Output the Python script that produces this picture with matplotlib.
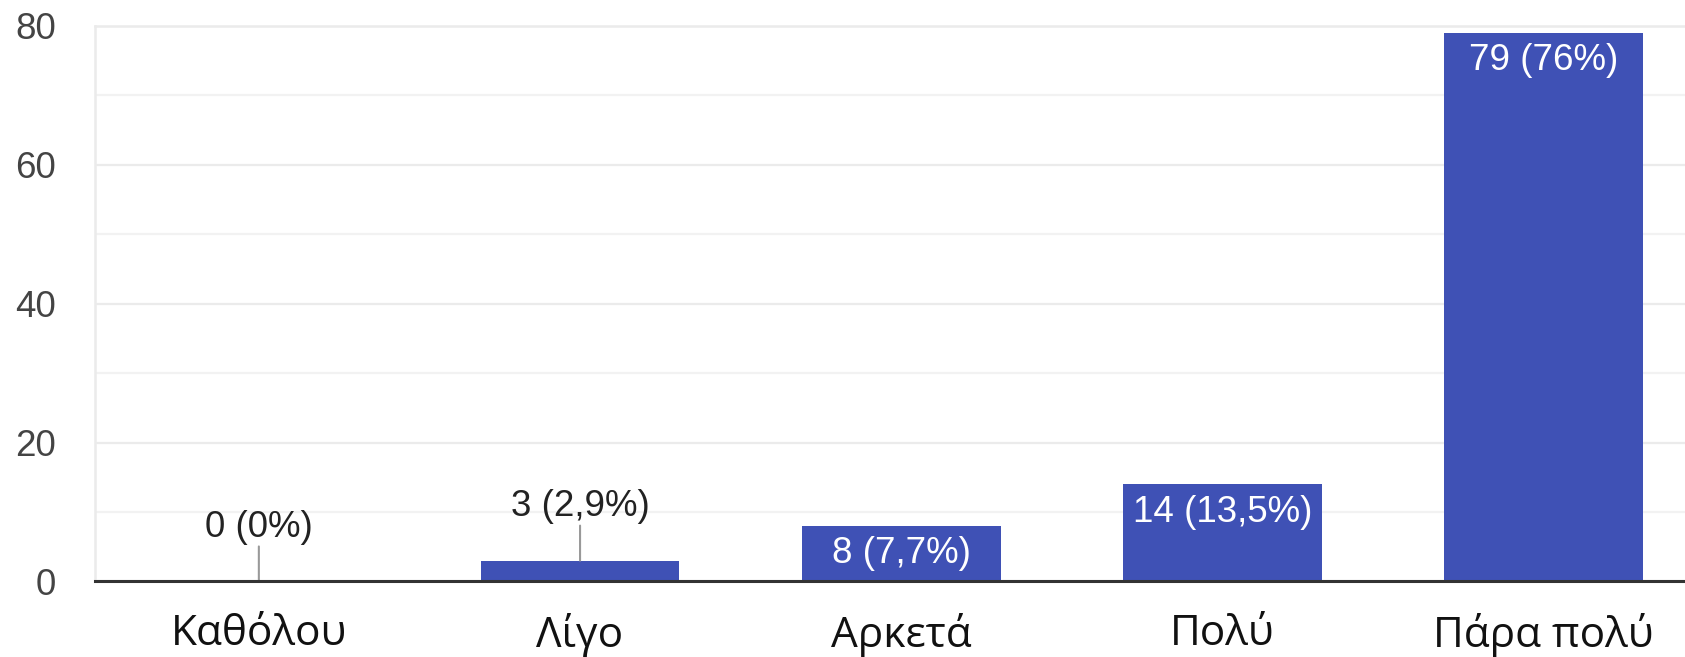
import matplotlib.pyplot as plt
from matplotlib.ticker import MultipleLocator

categories = ["Καθόλου", "Λίγο", "Αρκετά", "Πολύ", "Πάρα πολύ"]
counts = [0, 3, 8, 14, 79]
percents = [0, 2.9, 7.7, 13.5, 76]
y_ticks = [0, 20, 40, 60, 80]

BAR = "#3f51b5"
GRID = "#ebebeb"
NUM_FONT = "Liberation Sans"
CAT_FONT = "Open Sans"


def fmt_pct(p):
    s = f"{p:g}".replace(".", ",")
    return f"{s}%"


fig = plt.figure(figsize=(16.85, 6.57), dpi=100)
ax = fig.add_axes([0.0564, 0.115, 1 - 0.0564, 0.8457])

x = list(range(len(categories)))
ax.bar(x, counts, width=0.618, color=BAR, zorder=2)

ax.set_xlim(-0.51, 4.44)
ax.set_ylim(0, 80)
ax.set_yticks(y_ticks)
ax.yaxis.set_minor_locator(MultipleLocator(10))
ax.grid(axis="y", which="major", color=GRID, lw=1.6, zorder=0)
ax.grid(axis="y", which="minor", color="#f2f2f2", lw=1.6, zorder=0)
ax.set_axisbelow(True)

for side in ["left", "top"]:
    ax.spines[side].set_color(GRID)
    ax.spines[side].set_linewidth(1.8)
ax.spines["right"].set_visible(False)
ax.spines["bottom"].set_color("#333333")
ax.spines["bottom"].set_linewidth(2.2)
ax.spines["bottom"].set_zorder(3)

ax.tick_params(axis="y", which="both", length=0, pad=28, labelsize=26.5,
               labelcolor="#444444")
ax.tick_params(axis="x", length=0, pad=23, labelsize=30.5, labelcolor="#111111")
for lab in ax.get_yticklabels():
    lab.set_fontfamily(NUM_FONT)
ax.set_xticks(x)
ax.set_xticklabels(categories, fontfamily=CAT_FONT)

for i, (c, p) in enumerate(zip(counts, percents)):
    label = f"{c} ({fmt_pct(p)})"
    if c >= 5:
        ax.annotate(label, xy=(i, c), xytext=(0, -28), textcoords="offset pixels",
                    ha="center", va="center", color="white", fontsize=26.5,
                    fontfamily=NUM_FONT, zorder=4)
    else:
        ax.annotate("", xy=(i, c), xytext=(0, 35), textcoords="offset pixels",
                    arrowprops=dict(arrowstyle="-", color="#999999", lw=1.5,
                                    shrinkA=0, shrinkB=0), zorder=3)
        ax.annotate(label, xy=(i, c), xytext=(0, 54), textcoords="offset pixels",
                    ha="center", va="center", color="#222222", fontsize=26.5,
                    fontfamily=NUM_FONT, zorder=4)

fig.savefig("out.png", dpi=100, facecolor="white")
